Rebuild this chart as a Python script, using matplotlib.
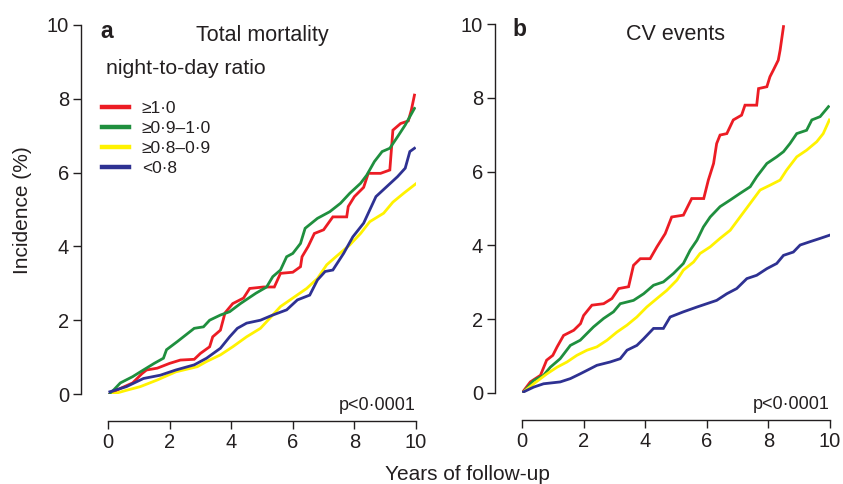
import matplotlib.pyplot as plt

plt.rcParams['font.family'] = ['Liberation Sans', 'DejaVu Sans']

# cumulative incidence (%), panel a: total mortality
a_red_t = [0.06, 0.4, 0.8, 1.1, 1.25, 1.6, 2.0, 2.35, 2.8, 3.0, 3.3, 3.4, 3.65, 3.8, 4.05, 4.4, 4.6, 5.05, 5.4,
           5.6, 6.0, 6.25, 6.3, 6.5, 6.7, 7.0, 7.3, 7.75, 7.8, 8.0, 8.3, 8.45, 8.85, 9.15, 9.25, 9.5, 9.75, 9.85, 9.95]
a_red_v = [0.0, 0.15, 0.3, 0.55, 0.65, 0.7, 0.83, 0.92, 0.94, 1.1, 1.28, 1.55, 1.73, 2.2, 2.45, 2.6, 2.86, 2.9, 2.9,
           3.27, 3.3, 3.45, 3.72, 4.0, 4.35, 4.45, 4.8, 4.8, 5.08, 5.35, 5.6, 5.98, 5.98, 6.07, 7.15, 7.33, 7.4, 7.7, 8.1]

a_green_t = [0.06, 0.4, 0.8, 1.05, 1.5, 1.8, 1.9, 2.25, 2.8, 3.1, 3.3, 3.65, 3.95, 4.3, 4.8, 5.15, 5.35, 5.6, 5.8,
             6.0, 6.25, 6.4, 6.8, 7.2, 7.55, 7.85, 8.2, 8.4, 8.65, 8.9, 9.15, 9.4, 9.65, 9.95]
a_green_v = [0.0, 0.3, 0.47, 0.6, 0.83, 0.97, 1.2, 1.42, 1.78, 1.82, 2.0, 2.14, 2.23, 2.45, 2.73, 2.9, 3.18, 3.36, 3.72,
             3.81, 4.08, 4.49, 4.76, 4.94, 5.17, 5.44, 5.71, 5.93, 6.3, 6.57, 6.66, 6.97, 7.29, 7.74]

a_yellow_t = [0.17, 0.6, 1.05, 1.6, 2.2, 2.9, 3.2, 3.65, 4.05, 4.5, 4.95, 5.25, 5.6, 6.0, 6.45, 6.8, 7.1, 7.4, 7.85,
              8.2, 8.5, 8.95, 9.25, 9.6, 10.0]
a_yellow_v = [0.0, 0.1, 0.2, 0.38, 0.6, 0.74, 0.88, 1.06, 1.28, 1.55, 1.78, 2.05, 2.37, 2.6, 2.86, 3.13, 3.5, 3.72, 4.04,
              4.35, 4.67, 4.9, 5.2, 5.44, 5.7]

a_blue_t = [0.06, 0.6, 1.15, 1.7, 2.2, 2.8, 3.2, 3.65, 3.95, 4.2, 4.5, 4.95, 5.35, 5.8, 6.15, 6.55, 6.8, 7.05, 7.3,
            7.65, 7.95, 8.3, 8.5, 8.7, 9.05, 9.4, 9.65, 9.8, 9.95]
a_blue_v = [0.06, 0.2, 0.42, 0.51, 0.65, 0.79, 0.97, 1.24, 1.55, 1.78, 1.92, 2.0, 2.14, 2.28, 2.55, 2.68, 3.09, 3.32, 3.36,
            3.81, 4.26, 4.63, 4.99, 5.35, 5.62, 5.89, 6.12, 6.57, 6.66]

# panel b: CV events
b_red_t = [0.0, 0.27, 0.6, 0.8, 1.0, 1.14, 1.35, 1.68, 1.9, 2.0, 2.27, 2.65, 2.92, 3.14, 3.46, 3.62, 3.84, 4.16, 4.38,
           4.65, 4.86, 5.24, 5.51, 5.9, 6.05, 6.22, 6.32, 6.43, 6.65, 6.86, 7.13, 7.24, 7.62, 7.68, 7.95, 8.05, 8.16,
           8.32, 8.38, 8.49]
b_red_v = [0.0, 0.3, 0.48, 0.89, 1.02, 1.25, 1.56, 1.7, 1.88, 2.1, 2.38, 2.42, 2.56, 2.83, 2.88, 3.46, 3.64, 3.64, 3.96,
           4.32, 4.77, 4.82, 5.27, 5.27, 5.77, 6.22, 6.76, 6.99, 7.03, 7.4, 7.53, 7.8, 7.8, 8.25, 8.3, 8.57, 8.75,
           9.02, 9.29, 9.93]

b_green_t = [0.05, 0.38, 0.7, 0.92, 1.24, 1.57, 1.89, 2.32, 2.65, 2.97, 3.19, 3.62, 3.95, 4.27, 4.59, 4.92, 5.24, 5.46,
             5.68, 5.89, 6.11, 6.43, 6.76, 7.08, 7.41, 7.62, 7.95, 8.27, 8.49, 8.7, 8.92, 9.24, 9.41, 9.68, 9.95]
b_green_v = [0.03, 0.34, 0.48, 0.7, 0.93, 1.29, 1.43, 1.79, 2.02, 2.2, 2.42, 2.51, 2.69, 2.92, 3.01, 3.24, 3.51, 3.87,
             4.14, 4.5, 4.77, 5.05, 5.23, 5.41, 5.59, 5.86, 6.22, 6.4, 6.54, 6.76, 7.03, 7.12, 7.4, 7.49, 7.76]

b_yellow_t = [0.05, 0.38, 0.81, 1.14, 1.46, 1.78, 2.11, 2.43, 2.76, 3.08, 3.41, 3.73, 4.05, 4.38, 4.7, 5.03, 5.24, 5.57,
              5.78, 6.11, 6.43, 6.76, 7.08, 7.41, 7.73, 8.05, 8.38, 8.59, 8.92, 9.24, 9.57, 9.78, 9.98]
b_yellow_v = [0.03, 0.25, 0.52, 0.7, 0.84, 1.02, 1.16, 1.25, 1.43, 1.65, 1.84, 2.06, 2.33, 2.56, 2.78, 3.06, 3.33, 3.55,
              3.78, 3.96, 4.19, 4.41, 4.77, 5.14, 5.5, 5.63, 5.77, 6.04, 6.4, 6.58, 6.81, 7.03, 7.4]

b_blue_t = [0.05, 0.38, 0.7, 1.24, 1.57, 1.89, 2.22, 2.43, 2.86, 3.19, 3.41, 3.73, 3.95, 4.27, 4.59, 4.81, 5.24, 5.68,
            6.0, 6.32, 6.65, 6.97, 7.3, 7.62, 7.95, 8.27, 8.49, 8.81, 9.03, 9.35, 9.68, 10.0]
b_blue_v = [0.03, 0.16, 0.25, 0.3, 0.39, 0.52, 0.66, 0.75, 0.84, 0.93, 1.16, 1.29, 1.47, 1.75, 1.75, 2.06, 2.2, 2.33,
            2.42, 2.51, 2.69, 2.83, 3.1, 3.19, 3.37, 3.51, 3.73, 3.82, 4.01, 4.1, 4.19, 4.28]

groups = ['\u22651\u00b70', '\u22650\u00b79\u20131\u00b70', '\u22650\u00b78\u20130\u00b79', '<0\u00b78']
colors = ['#ec1c24', '#1f8f3e', '#fff200', '#2e3192']
ticks = [0, 2, 4, 6, 8, 10]
ink = '#231f20'

panel_a = [(a_red_t, a_red_v), (a_green_t, a_green_v), (a_yellow_t, a_yellow_v), (a_blue_t, a_blue_v)]
panel_b = [(b_red_t, b_red_v), (b_green_t, b_green_v), (b_yellow_t, b_yellow_v), (b_blue_t, b_blue_v)]

W, H = 843, 484
fig = plt.figure(figsize=(W / 100, H / 100), dpi=100)
ax_a = fig.add_axes([108 / W, 90 / H, 308 / W, 369 / H])
ax_b = fig.add_axes([522 / W, 91 / H, 308 / W, 369 / H])

for ax, curves in [(ax_a, panel_a), (ax_b, panel_b)]:
    for (t, v), c, g in zip(curves, colors, groups):
        ax.plot(t, v, color=c, lw=2.0, label=g, solid_joinstyle='miter')
    ax.set_xlim(0, 10)
    ax.set_ylim(0, 10)
    ax.set_xticks(ticks)
    ax.set_yticks(ticks)
    for s in ['top', 'right']:
        ax.spines[s].set_visible(False)
    for s in ['left', 'bottom']:
        ax.spines[s].set_position(('outward', 19.5))
        ax.spines[s].set_bounds(0, 10)
        ax.spines[s].set_color(ink)
        ax.spines[s].set_linewidth(1.0)
    ax.tick_params(length=5.5, width=1.0, color=ink, labelcolor=ink, labelsize=14.5, pad=3)
    ax.patch.set_visible(False)
    ax.text(1.0, -0.032, 'p<0\u00b70001', transform=ax.transAxes, ha='right', va='center',
            fontsize=13, color=ink)

leg = ax_a.legend(loc='upper left', bbox_to_anchor=(102 / W, 1 - 101 / H), bbox_transform=fig.transFigure,
                  frameon=False, fontsize=12.5, handlelength=1.55, handletextpad=0.75, labelspacing=0.28,
                  borderpad=0, borderaxespad=0, labelcolor=ink)
for line in leg.get_lines():
    line.set_linewidth(3.2)

fig.text(100 / W, 1 - 31 / H, 'a', fontsize=16.5, fontweight='bold', color=ink, va='center')
fig.text(262 / W, 1 - 35 / H, 'Total mortality', fontsize=15.5, color=ink, ha='center', va='center')
fig.text(106 / W, 1 - 69 / H, 'night-to-day ratio', fontsize=15.3, color=ink, va='center')
fig.text(512 / W, 1 - 30 / H, 'b', fontsize=16.5, fontweight='bold', color=ink, va='center')
fig.text(675 / W, 1 - 35 / H, 'CV events', fontsize=15.5, color=ink, ha='center', va='center')
fig.text(23 / W, 1 - 210 / H, 'Incidence (%)', fontsize=15, color=ink, rotation=90, ha='center', va='center')
fig.text(467 / W, 1 - 474 / H, 'Years of follow-up', fontsize=15, color=ink, ha='center', va='center')

fig.savefig('out.png', dpi=100)
